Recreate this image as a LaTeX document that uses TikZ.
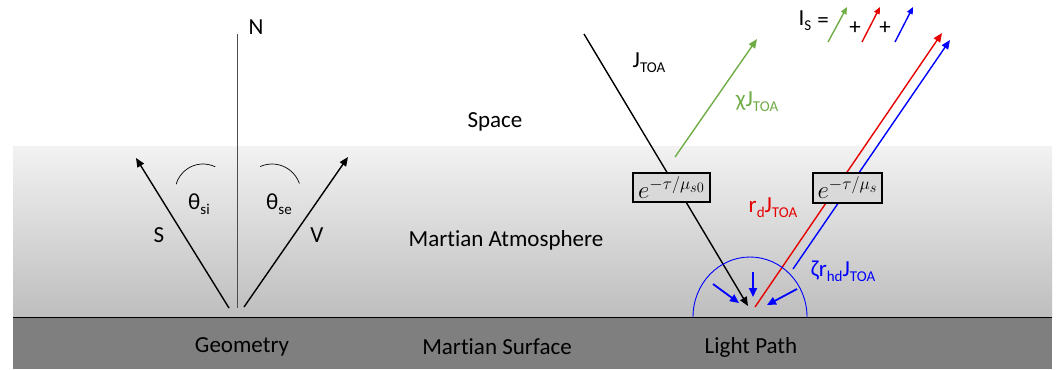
\documentclass[tikz,border=0pt]{standalone}
\usepackage{fontspec}
\setmainfont{Carlito}[Ligatures=NoCommon]
\usetikzlibrary{arrows.meta}
\DeclareMathSizes{25}{25}{19}{15}
\definecolor{pgreen}{RGB}{112,173,71}
\definecolor{pred}{RGB}{230,0,0}
\definecolor{pblue}{RGB}{0,0,255}
\definecolor{atop}{RGB}{242,242,242}
\definecolor{abot}{RGB}{190,190,190}
\definecolor{surf}{RGB}{127,127,127}
\definecolor{boxfill}{RGB}{217,217,217}
\newcommand{\mysub}[1]{\raisebox{-0.45ex}{\fontsize{15}{17}\selectfont #1}}
\begin{document}
\begin{tikzpicture}[x=1pt,y=-1pt,
  lbl/.style={font=\fontsize{23}{27}\selectfont, inner sep=0pt},
  ray/.style={line width=1.4pt},
  tip/.style={-{Triangle[length=9pt,width=7.5pt]}},
  smalltip/.style={-{Triangle[length=7pt,width=6pt]}},
  bluetip/.style={-{Triangle[length=9pt,width=8pt]}},
  mbox/.style={draw=black, line width=1.2pt, fill=boxfill, minimum height=29pt, inner sep=1pt, font=\fontsize{25}{28}\selectfont}]
\useasboundingbox (0,0) rectangle (1056,369);
\fill[white] (0,0) rectangle (1056,369);
% atmosphere
\shade[top color=atop, bottom color=abot] (13,146) rectangle (1052,317);
% surface
\fill[surf] (13,317) rectangle (1052,369);
\draw[line width=1pt] (13,317) -- (1052,317);
% texts
\node[lbl] (space) at (495,122) {Space};
\node[lbl] (atm) at (506,240) {Martian Atmosphere};
\node[lbl] (geo) at (242,347) {Geometry};
\node[lbl] (msurf) at (497,347) {Martian Surface};
\node[lbl] (lpath) at (751,347) {Light Path};
% Geometry
\coordinate (ntop) at (237,34);
\coordinate (nbot) at (237,308);
\draw[line width=0.8pt, black!70] (ntop) -- (nbot);
\node[lbl] (N) at (256,27) {N};
\coordinate (s0) at (229,308);
\coordinate (s1) at (136,158);
\coordinate (v0) at (244,307);
\coordinate (v1) at (348,157);
\draw[ray,tip] (s0) -- (s1);
\draw[ray,tip] (v0) -- (v1);
\node[lbl] (S) at (159,235) {S};
\node[lbl] (V) at (317,235) {V};
\draw[line width=0.7pt] ([shift={(-64:28)}]203,192) arc[start angle=-64, end angle=-164, radius=28];
\draw[line width=0.7pt] ([shift={(-114:29)}]272,193) arc[start angle=-114, end angle=-19, radius=29];
\node[lbl] (tsi) at (199,204) {θ\mysub{si}};
\node[lbl] (tse) at (279,204) {θ\mysub{se}};
% Light path
\node[mbox, minimum width=77pt] (b1) at (671.5,187.5) {$e^{-\tau/\mu_{s0}}$};
\coordinate (j0) at (584,34);
\draw[ray] (j0) -- (b1.north -| 667,0);
\coordinate (a0) at (686,202);
\coordinate (a1) at (748,306);
\draw[ray,tip] (a0) -- (a1);
\node[lbl] (jtoa) at (649,63) {J\mysub{TOA}};
\coordinate (g0) at (675,157);
\coordinate (g1) at (757,39);
\draw[ray,pgreen,tip] (g0) -- (g1);
\node[lbl,pgreen] (chi) at (757,102) {χJ\mysub{TOA}};
% red and blue rays (behind box 2)
\coordinate (r0) at (755,307);
\coordinate (r1) at (942,33);
\coordinate (bl0) at (793,269);
\coordinate (bl1) at (950,40);
\draw[ray,pred,tip] (r0) -- (r1);
\draw[ray,pblue,tip] (bl0) -- (bl1);
\node[mbox, minimum width=69pt, minimum height=30pt] (b2) at (847.5,188) {$e^{-\tau/\mu_{s}}$};
\node[lbl,pred] (rd) at (773,208) {r\mysub{d}J\mysub{TOA}};
\node[lbl,pblue] (zeta) at (843,271) {ζr\mysub{hd}J\mysub{TOA}};
% hemisphere
\coordinate (hc) at (750,317);
\draw[pblue, line width=0.9pt] (693,317) arc[start angle=-180, end angle=0, x radius=57, y radius=60];
\draw[pblue,line width=1.8pt,bluetip] (753,272) -- (753,297);
\draw[pblue,line width=1.8pt,bluetip] (713,284) -- (739,303);
\draw[pblue,line width=1.8pt,bluetip] (797,289) -- (767,305);
% I_S equation
\node[lbl] (is) at (805,21) {I\mysub{S}};
\node[lbl] (eq) at (823,23) {=};
\draw[ray,pgreen,smalltip] (828,42) -- (847,7);
\node[lbl] (p1) at (855,28) {+};
\draw[ray,pred,smalltip] (862,42) -- (880,7);
\node[lbl] (p2) at (885,28) {+};
\draw[ray,pblue,smalltip] (895,42) -- (913,7);
\end{tikzpicture}
\end{document}
